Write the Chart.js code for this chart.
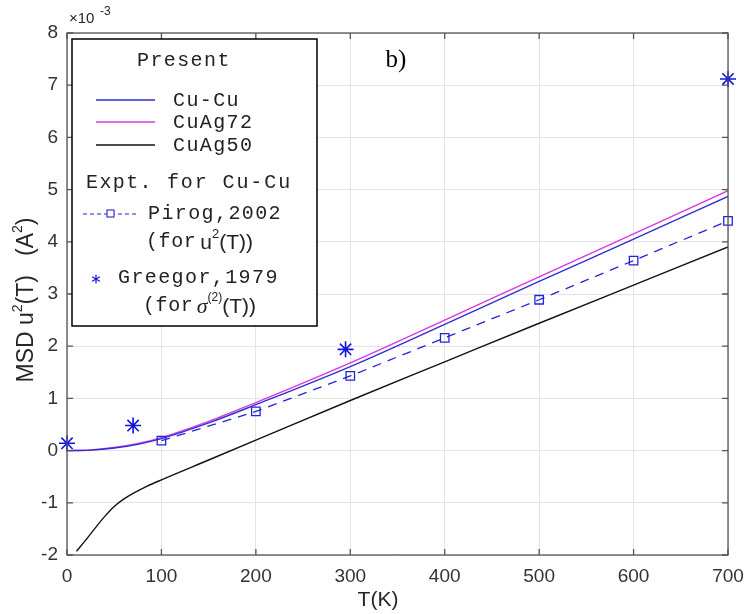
<!DOCTYPE html>
<html>
<head>
<meta charset="utf-8">
<script src="https://cdn.jsdelivr.net/npm/chart.js@4.4.0/dist/chart.umd.min.js"></script>
<style>
  html, body { margin: 0; padding: 0; background: #fff; }
  #wrap { width: 744px; height: 614px; position: relative; }
</style>
</head>
<body>
<div id="wrap"><canvas id="msd"></canvas></div>
<script>
// values in units of 1e-3 A^2
var tempCurve = [0, 25, 50, 75, 100, 150, 200, 300, 400, 500, 600, 700];
var cuCu   = [0, 0.01, 0.05, 0.12, 0.23, 0.53, 0.88, 1.61, 2.42, 3.24, 4.05, 4.87];
var cuAg72 = [0, 0.012, 0.06, 0.135, 0.25, 0.56, 0.92, 1.68, 2.50, 3.33, 4.15, 4.98];

var tempAg50 = [10, 20, 30, 40, 50, 60, 70, 85, 100, 150, 200, 300, 400, 500, 600, 700];
var cuAg50   = [-1.93, -1.71, -1.48, -1.26, -1.07, -0.93, -0.82, -0.68, -0.56, -0.18, 0.20, 0.96, 1.70, 2.44, 3.17, 3.90];

var tempPirog = [100, 200, 300, 400, 500, 600, 700];
var pirog     = [0.19, 0.75, 1.43, 2.16, 2.89, 3.64, 4.40];

var tempGreegor = [0, 70, 295, 700];
var greegor     = [0.14, 0.48, 1.94, 7.12];

var xTicks = [0, 100, 200, 300, 400, 500, 600, 700];
var yTicks = [-2, -1, 0, 1, 2, 3, 4, 5, 6, 7, 8];

function pts(xs, ys) {
  return xs.map(function (x, i) { return { x: x, y: ys[i] }; });
}

var SANS = '"Liberation Sans", Arial, sans-serif';
var MONO = '"Liberation Mono", "Courier New", monospace';
var SERIF = '"Liberation Serif", "Times New Roman", serif';

// draw a run of [text, font, dy, letterSpacing] pieces from x
function drawRun(c, x, y, parts) {
  parts.forEach(function (p) {
    c.font = p[1];
    c.letterSpacing = p[3] || '0px';
    c.fillText(p[0], x, y + (p[2] || 0));
    x += c.measureText(p[0]).width;
  });
  c.letterSpacing = '0px';
  return x;
}

var frame = {
  id: 'frame',
  afterDraw: function (chart) {
    var c = chart.ctx, a = chart.chartArea;
    var sx = chart.scales.x, sy = chart.scales.y;
    c.save();
    // box + inward ticks
    c.strokeStyle = '#555';
    c.lineWidth = 1.3;
    c.strokeRect(a.left, a.top, a.right - a.left, a.bottom - a.top);
    c.beginPath();
    xTicks.forEach(function (t) {
      var px = sx.getPixelForValue(t);
      c.moveTo(px, a.bottom); c.lineTo(px, a.bottom - 6);
      c.moveTo(px, a.top); c.lineTo(px, a.top + 6);
    });
    yTicks.forEach(function (t) {
      var py = sy.getPixelForValue(t);
      c.moveTo(a.left, py); c.lineTo(a.left + 6, py);
      c.moveTo(a.right, py); c.lineTo(a.right - 6, py);
    });
    c.stroke();

    // exponent
    c.fillStyle = '#262626';
    c.textBaseline = 'alphabetic';
    c.textAlign = 'left';
    c.font = '15px ' + SANS;
    c.fillText('\u00d710', 69, 23);
    c.font = '12px ' + SANS;
    c.fillText('-3', 100, 15);

    // axis titles
    c.font = '21px ' + SANS;
    c.textAlign = 'center';
    c.textBaseline = 'middle';
    c.fillText('T(K)', 378, 600);
    c.save();
    c.translate(27, 300);
    c.rotate(-Math.PI / 2);
    c.textAlign = 'left';
    var parts = [['MSD', '23px ' + SANS], [' u', '23px ' + SANS], ['2', '14px ' + SANS, -9], ['(T)', '23px ' + SANS],
                 ['   (A', '23px ' + SANS], ['2', '14px ' + SANS, -9], [')', '23px ' + SANS]];
    var total = 0;
    parts.forEach(function (p) { c.font = p[1]; total += c.measureText(p[0]).width; });
    drawRun(c, -total / 2, 0, parts);
    c.restore();

    // panel label
    c.fillStyle = '#000';
    c.textAlign = 'center';
    c.font = '25px ' + SERIF;
    c.fillText('b)', 396, 60);

    // legend
    var L = 72, T = 39, R = 317, B = 326;
    c.fillStyle = '#fff';
    c.fillRect(L, T, R - L, B - T);
    c.strokeStyle = '#000';
    c.lineWidth = 1.5;
    c.strokeRect(L, T, R - L, B - T);

    var mono = '20px ' + MONO, sp = '1.4px';
    var sans = '21px ' + SANS, sup = '13px ' + SANS;
    c.fillStyle = '#222';
    c.textAlign = 'left';
    drawRun(c, 137, 61, [['Present', mono, 0, sp]]);

    var rows = [
      { label: 'Cu-Cu', color: '#2f2fd6', y: 100 },
      { label: 'CuAg72', color: '#d93ad9', y: 122 },
      { label: 'CuAg50', color: '#111', y: 145 }
    ];
    rows.forEach(function (r) {
      c.strokeStyle = r.color;
      c.lineWidth = 1.3;
      c.beginPath(); c.moveTo(96, r.y); c.lineTo(155, r.y); c.stroke();
      drawRun(c, 173, r.y + 1, [[r.label, mono, 0, sp]]);
    });

    drawRun(c, 86, 183, [['Expt.', mono, 0, sp], [' for Cu-Cu', mono, 0, '1.9px']]);

    // Pirog sample
    c.strokeStyle = '#2323d9';
    c.lineWidth = 1.1;
    c.setLineDash([4, 3]);
    c.beginPath(); c.moveTo(83, 214); c.lineTo(138, 214); c.stroke();
    c.setLineDash([]);
    c.fillStyle = '#fff';
    c.fillRect(107, 210, 7, 7);
    c.strokeRect(107, 210, 7, 7);
    c.fillStyle = '#222';
    drawRun(c, 148, 214, [['Pirog,2002', mono, 0, sp]]);
    drawRun(c, 146, 242, [['(for', mono, 0, '0.6px'], [' ', '14px ' + SANS], ['u', sans, 1], ['2', sup, -8], ['(T))', sans, 1]]);

    // Greegor sample star
    c.strokeStyle = '#1414e0';
    c.lineWidth = 1.2;
    c.beginPath();
    var cx = 96, cy = 279, s = 4.5;
    c.moveTo(cx, cy - s); c.lineTo(cx, cy + s);
    c.moveTo(cx - s * 0.87, cy - s / 2); c.lineTo(cx + s * 0.87, cy + s / 2);
    c.moveTo(cx - s * 0.87, cy + s / 2); c.lineTo(cx + s * 0.87, cy - s / 2);
    c.stroke();
    c.fillStyle = '#222';
    drawRun(c, 118, 278, [['Greegor,1979', mono, 0, sp]]);
    drawRun(c, 143, 306, [['(for', mono, 0, '0.6px'], [' ', '12px ' + SANS], ['\u03c3', 'italic 22px ' + SERIF, 1],
                          ['(2)', '12px ' + SANS, -8], ['(T))', sans, 1]]);

    c.restore();
  }
};

new Chart(document.getElementById('msd'), {
  type: 'line',
  data: {
    datasets: [
      {
        label: 'CuAg50',
        data: pts(tempAg50, cuAg50),
        borderColor: '#111',
        borderWidth: 1.4,
        pointRadius: 0,
        cubicInterpolationMode: 'monotone'
      },
      {
        label: 'Pirog,2002',
        data: pts(tempPirog, pirog),
        borderColor: '#2323d9',
        borderWidth: 1.3,
        borderDash: [9, 7],
        pointStyle: 'rect',
        pointRadius: 6,
        pointBorderWidth: 1.3,
        pointBorderColor: '#2323d9',
        pointBackgroundColor: 'rgba(255,255,255,0)',
        clip: false
      },
      {
        label: 'Cu-Cu',
        data: pts(tempCurve, cuCu),
        borderColor: '#2f2fd6',
        borderWidth: 1.4,
        pointRadius: 0,
        cubicInterpolationMode: 'monotone'
      },
      {
        label: 'CuAg72',
        data: pts(tempCurve, cuAg72),
        borderColor: '#d93ad9',
        borderWidth: 1.4,
        pointRadius: 0,
        cubicInterpolationMode: 'monotone'
      },
      {
        label: 'Greegor,1979',
        data: pts(tempGreegor, greegor),
        showLine: false,
        pointStyle: 'star',
        pointRadius: 8,
        pointBorderWidth: 1.6,
        pointBorderColor: '#1414e0',
        pointBackgroundColor: '#1414e0',
        clip: false
      }
    ]
  },
  options: {
    responsive: true,
    maintainAspectRatio: false,
    animation: false,
    layout: { padding: { top: 33, right: 16, left: 0, bottom: 0 } },
    plugins: {
      legend: { display: false },
      tooltip: { enabled: false },
      title: { display: false }
    },
    scales: {
      x: {
        type: 'linear',
        min: 0,
        max: 700,
        afterFit: function (s) { s.height = 59; s.paddingLeft = 0; s.paddingRight = 0; },
        afterBuildTicks: function (s) { s.ticks = xTicks.map(function (v) { return { value: v }; }); },
        grid: { color: '#e3e3e3', lineWidth: 1, drawTicks: false },
        border: { display: false },
        ticks: { padding: 10, color: '#333', font: { family: SANS, size: 19 }, maxRotation: 0 }
      },
      y: {
        min: -2,
        max: 8,
        afterFit: function (s) { s.width = 67; s.paddingTop = 0; s.paddingBottom = 0; },
        afterBuildTicks: function (s) { s.ticks = yTicks.map(function (v) { return { value: v }; }); },
        grid: { color: '#e3e3e3', lineWidth: 1, drawTicks: false },
        border: { display: false },
        ticks: { padding: 9, color: '#333', font: { family: SANS, size: 19 } }
      }
    }
  },
  plugins: [frame]
});
</script>
</body>
</html>
